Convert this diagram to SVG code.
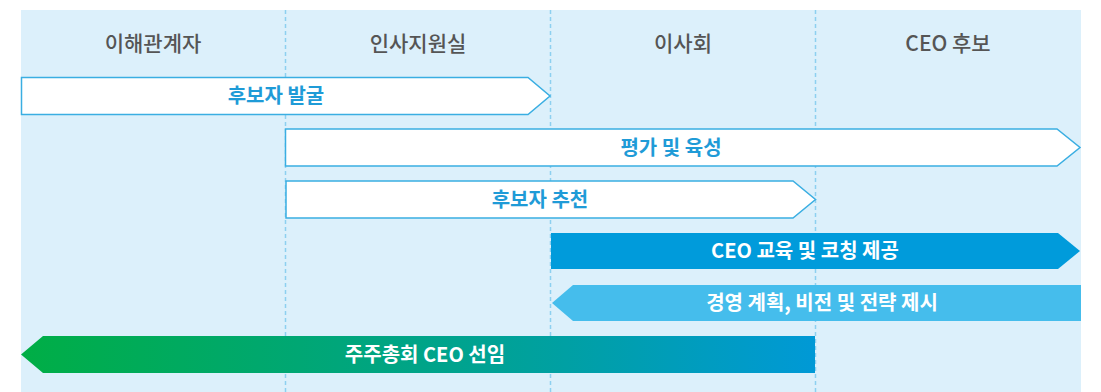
<svg xmlns="http://www.w3.org/2000/svg" width="1101" height="392" viewBox="0 0 1101 392">
<defs>
<linearGradient id="g" x1="21" y1="0" x2="815" y2="0" gradientUnits="userSpaceOnUse">
<stop offset="0" stop-color="#00ae45"/>
<stop offset="0.55" stop-color="#00a38e"/>
<stop offset="1" stop-color="#0099d6"/>
</linearGradient>
<style>
.hd{font-family:"Noto Sans CJK KR","Noto Sans",sans-serif;font-size:21px;font-weight:500;fill:#555555;text-anchor:middle}
.lb{font-family:"Noto Sans CJK KR","Noto Sans",sans-serif;font-size:20px;font-weight:700;text-anchor:middle}
.ol{fill:#ffffff;stroke:#3aaee2;stroke-width:1.5}
.bl{fill:#1f9bd7}
.wh{fill:#ffffff}
.dv{stroke:#8dd0f0;stroke-width:1.5;stroke-dasharray:4 3;fill:none}
</style>
</defs>
<rect x="21" y="10" width="1060" height="382" fill="#dcf0fb"/>
<g id="connectors">
<line class="dv" x1="285.5" y1="10" x2="285.5" y2="392"/>
<line class="dv" x1="550.5" y1="10" x2="550.5" y2="392"/>
<line class="dv" x1="815.5" y1="10" x2="815.5" y2="392"/>
</g>
<g id="headers">
<text class="hd" x="153" y="51">이해관계자</text>
<text class="hd" x="418" y="51">인사지원실</text>
<text class="hd" x="683" y="51">이사회</text>
<text class="hd" x="948" y="51">CEO 후보</text>
</g>
<g id="bar1">
<polygon class="ol" points="21.5,77.5 528,77.5 550,96 528,114.5 21.5,114.5"/>
<text class="lb bl" x="276" y="103">후보자 발굴</text>
</g>
<g id="bar2">
<polygon class="ol" points="285.5,129 1057,129 1080,147.5 1057,166 285.5,166"/>
<text class="lb bl" x="671" y="154.5">평가 및 육성</text>
</g>
<g id="bar3">
<polygon class="ol" points="286,181 793,181 815.5,199.5 793,218 286,218"/>
<text class="lb bl" x="540" y="206.5">후보자 추천</text>
</g>
<g id="bar4">
<polygon fill="#009bdb" points="551,233 1058,233 1080,251 1058,269 551,269"/>
<text class="lb wh" x="805" y="258">CEO 교육 및 코칭 제공</text>
</g>
<g id="bar5">
<polygon fill="#45bdec" points="552,303 573,285 1081,285 1081,321 573,321"/>
<text class="lb wh" x="822" y="310">경영 계획, 비전 및 전략 제시</text>
</g>
<g id="bar6">
<polygon fill="url(#g)" points="21,354.5 43,336 815,336 815,373 43,373"/>
<text class="lb wh" x="425" y="362">주주총회 CEO 선임</text>
</g>
</svg>
